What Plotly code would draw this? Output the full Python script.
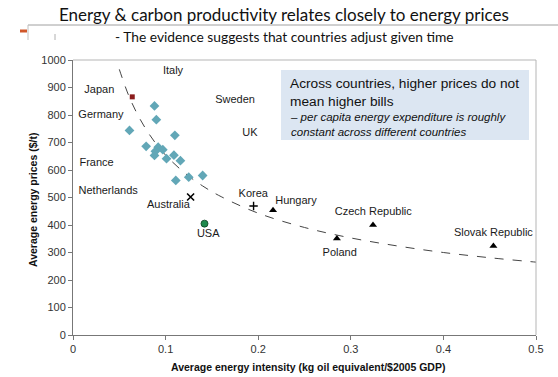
import plotly.graph_objects as go

# ---- data ----
oecd_x = [0.088, 0.090, 0.061, 0.110, 0.079, 0.092, 0.089, 0.097, 0.088, 0.109, 0.101, 0.116, 0.125, 0.140, 0.111]
oecd_y = [833, 783, 744, 726, 686, 683, 668, 674, 653, 654, 641, 634, 574, 580, 562]

japan_x, japan_y = [0.064], [866]
australia_x, australia_y = [0.127], [502]
korea_x, korea_y = [0.195], [469]
usa_x, usa_y = [0.142], [405]

east_names = ["Hungary", "Czech Republic", "Poland", "Slovak Republic"]
east_x = [0.216, 0.324, 0.285, 0.454]
east_y = [454, 400, 351, 324]

trend_x = [0.05, 0.06, 0.07, 0.08, 0.09, 0.10, 0.12, 0.14, 0.16, 0.20, 0.25, 0.30, 0.35, 0.40, 0.45, 0.50]
trend_y = [966, 872, 800, 742, 694, 654, 591, 542, 503, 443, 391, 353, 324, 300, 281, 265]

label_text = ["Italy", "Japan", "Sweden", "Germany", "UK", "France", "Netherlands", "Australia",
              "Korea", "Hungary", "Czech Republic", "Poland", "Slovak Republic", "USA"]
label_x = [0.108, 0.0284, 0.175, 0.0302, 0.191, 0.0255, 0.038, 0.103,
           0.1947, 0.2408, 0.3243, 0.288, 0.454, 0.146]
label_y = [960, 890, 854, 800, 734, 625, 523, 472, 511, 487, 445, 297, 371, 365]

x_ticks = [0, 0.1, 0.2, 0.3, 0.4, 0.5]
x_tick_labels = ["0", "0.1", "0.2", "0.3", "0.4", "0.5"]
y_ticks = list(range(0, 1001, 100))

title = "Energy &amp; carbon productivity relates closely to energy prices"
subtitle = "- The evidence suggests that countries adjust given time"
box_head = "Across countries, higher prices do not<br>mean higher bills"
box_body = "<i>– per capita energy expenditure is roughly<br>constant across different countries</i>"
x_title = "<b>Average energy intensity (kg oil equivalent/$2005 GDP)</b>"
y_title = "<b>Average energy prices ($/t)</b>"

# ---- figure ----
W, H = 558, 377
L, R, T, B = 73, 22, 60, 42
pw, ph = W - L - R, H - T - B


def px(xp):  # page pixel x -> paper x
    return (xp - L) / pw


def py(yp):  # page pixel y -> paper y
    return (H - B - yp) / ph


ARIAL = "Liberation Sans, Arial, sans-serif"
fig = go.Figure()

fig.add_trace(go.Scatter(x=trend_x, y=trend_y, mode="lines", line_shape="spline",
                         line=dict(color="#444444", width=1, dash="dash"), hoverinfo="skip"))
fig.add_trace(go.Scatter(x=oecd_x, y=oecd_y, mode="markers",
                         marker=dict(symbol="diamond", size=7.5, color="#62a7b7",
                                     line=dict(width=0))))
fig.add_trace(go.Scatter(x=japan_x, y=japan_y, mode="markers",
                         marker=dict(symbol="square", size=5, color="#8b1c1c")))
fig.add_trace(go.Scatter(x=australia_x, y=australia_y, mode="markers",
                         marker=dict(symbol="x-thin-open", size=7, color="#000000",
                                     line=dict(width=1.6, color="#000000"))))
fig.add_trace(go.Scatter(x=korea_x, y=korea_y, mode="markers",
                         marker=dict(symbol="cross-thin-open", size=6, color="#000000",
                                     line=dict(width=1.4, color="#000000"))))
fig.add_trace(go.Scatter(x=usa_x, y=usa_y, mode="markers",
                         marker=dict(symbol="circle", size=7, color="#1f8a4c",
                                     line=dict(width=0.8, color="#0b3d1f"))))
fig.add_trace(go.Scatter(x=east_x, y=east_y, mode="markers", text=east_names,
                         marker=dict(symbol="triangle-up", size=7, color="#000000")))
fig.add_trace(go.Scatter(x=label_x, y=label_y, mode="text", text=label_text,
                         textfont=dict(family=ARIAL, size=11, color="#1a1a1a"),
                         textposition="middle center", hoverinfo="skip"))

axis_common = dict(showgrid=False, zeroline=False, showline=True, linecolor="#777777",
                   linewidth=1, ticks="outside", ticklen=4, tickcolor="#777777",
                   tickfont=dict(family=ARIAL, size=11, color="#333333"))
fig.update_xaxes(range=[0, 0.5], tickvals=x_ticks, ticktext=x_tick_labels, **axis_common)
fig.update_yaxes(range=[0, 1000], tickvals=y_ticks, **axis_common)

shapes = [
    # plot frame top and right
    dict(type="line", xref="paper", yref="paper", x0=0, x1=1, y0=1, y1=1,
         line=dict(color="#b5b5b5", width=1)),
    dict(type="line", xref="paper", yref="paper", x0=1, x1=1, y0=0, y1=1,
         line=dict(color="#b5b5b5", width=1)),
    # text box
    dict(type="rect", xref="paper", yref="paper", x0=px(281), x1=px(529), y0=py(140), y1=py(70),
         fillcolor="#dce6f2", line=dict(width=0), layer="below"),
    # slide decorations
    dict(type="line", xref="paper", yref="paper", x0=px(28), x1=px(558), y0=py(25), y1=py(25),
         line=dict(color="#a0a0a0", width=1)),
    dict(type="line", xref="paper", yref="paper", x0=px(28), x1=px(28), y0=py(25), y1=py(40),
         line=dict(color="#c0c0c0", width=1)),
    dict(type="line", xref="paper", yref="paper", x0=px(20), x1=px(27), y0=py(31), y1=py(31),
         line=dict(color="#d0572a", width=3)),
    dict(type="line", xref="paper", yref="paper", x0=px(55), x1=px(55), y0=py(34), y1=py(40),
         line=dict(color="#b0b0b0", width=1)),
]

annotations = [
    dict(text=title, xref="paper", yref="paper", x=px(284), y=py(14), showarrow=False,
         font=dict(family="Lato, Open Sans, sans-serif", size=17, color="#111111"),
         xanchor="center", yanchor="middle"),
    dict(text=subtitle, xref="paper", yref="paper", x=px(284), y=py(36), showarrow=False,
         font=dict(family="Lato, Open Sans, sans-serif", size=13.8, color="#111111"),
         xanchor="center", yanchor="middle"),
    dict(text=box_head, xref="paper", yref="paper", x=px(288), y=py(74), showarrow=False,
         align="left", xanchor="left", yanchor="top",
         font=dict(family=ARIAL, size=13.7, color="#111111")),
    dict(text=box_body, xref="paper", yref="paper", x=px(288), y=py(109), showarrow=False,
         align="left", xanchor="left", yanchor="top",
         font=dict(family=ARIAL, size=11.5, color="#111111")),
    dict(text=x_title, xref="paper", yref="paper", x=px(308), y=py(367), showarrow=False,
         xanchor="center", yanchor="middle",
         font=dict(family=ARIAL, size=10.5, color="#111111")),
    dict(text=y_title, xref="paper", yref="paper", x=px(33), y=py(200), showarrow=False,
         textangle=-90, xanchor="center", yanchor="middle",
         font=dict(family=ARIAL, size=10.5, color="#111111")),
]

fig.update_layout(width=W, height=H, margin=dict(l=L, r=R, t=T, b=B),
                  paper_bgcolor="white", plot_bgcolor="white", showlegend=False,
                  shapes=shapes, annotations=annotations)

# remove the browser's default 8px body margin so the figure fills the window exactly
fig.write_html("out.html", config={"displayModeBar": False},
               post_script="document.body.style.margin='0';")
